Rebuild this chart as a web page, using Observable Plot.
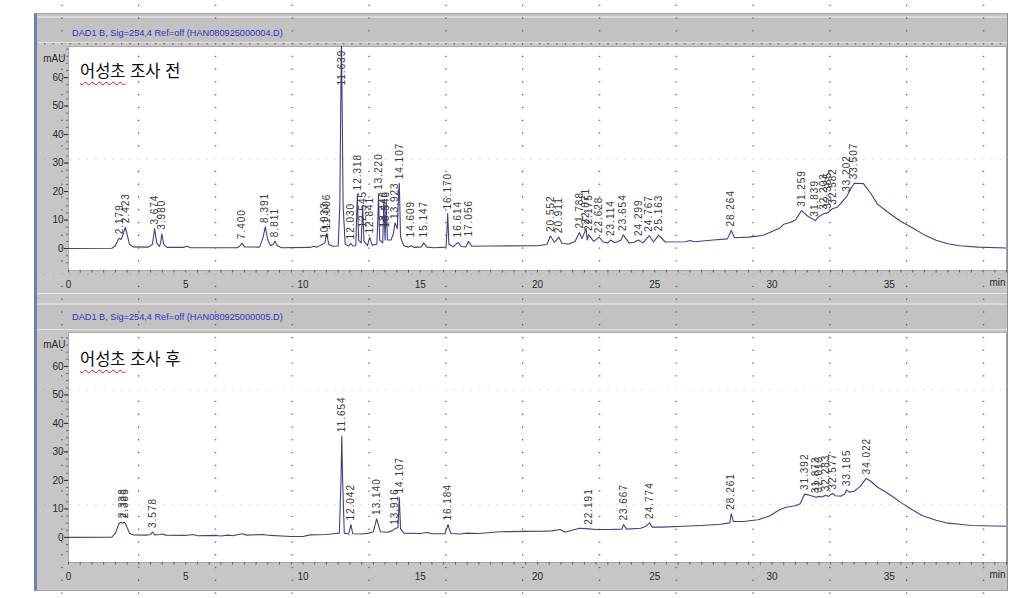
<!DOCTYPE html>
<html lang="ko"><head><meta charset="utf-8">
<script src="https://cdn.jsdelivr.net/npm/d3@7"></script>
<script src="https://cdn.jsdelivr.net/npm/@observablehq/plot@0.6"></script>
<style>
html,body{margin:0;padding:0;background:#fff;}
#page{position:relative;width:1016px;height:598px;overflow:hidden;background:#fff;font-family:"Liberation Sans",Arial,sans-serif;}
.abs{position:absolute;}
#frame{left:34px;top:13px;width:974px;height:578px;background:#c6c6c6;box-sizing:border-box;border-left:3px solid #7082aa;border-top:1px solid #a4a4a4;border-right:1px solid #8f8f8f;border-bottom:1px solid #a4a4a4;}
.hdr{left:37px;width:970px;height:27px;background:#c2c2c2;border-top:2px solid #d9d9d9;border-bottom:1px solid #e2e2e2;box-sizing:border-box;}
.hdr span{position:absolute;left:35px;font-size:9.2px;color:#3232c4;white-space:nowrap;}
.line{left:37px;width:970px;height:1px;background:#e6e6e6;}
.title{font-family:"Noto Sans CJK KR";font-size:16.5px;color:#0a0a0a;line-height:1;white-space:nowrap;}
.title .sp{text-decoration:underline wavy #d02020;text-decoration-thickness:1px;text-underline-offset:4px;}
.chart{left:37px;width:970px;}
</style></head>
<body>
<div id="page">
  <div id="frame" class="abs"></div>
  <div class="abs hdr" style="top:16px"><span style="top:10px">DAD1 B, Sig=254,4 Ref=off (HAN080925000004.D)</span></div>
  <div id="c1" class="abs chart" style="top:45px"></div>
  <div class="abs line" style="top:293px"></div>
  <div class="abs hdr" style="top:303px"><span style="top:7px">DAD1 B, Sig=254,4 Ref=off (HAN080925000005.D)</span></div>
  <div id="c2" class="abs chart" style="top:331px"></div>
  <div class="abs title" style="left:80px;top:62px"><span class="sp">어성초</span> 조사 전</div>
  <div class="abs title" style="left:80px;top:350px"><span class="sp">어성초</span> 조사 후</div>
</div>
<script>
// ---- axis ticks ----
const xTicks = [0, 5, 10, 15, 20, 25, 30, 35];
const yTicks = [0, 10, 20, 30, 40, 50, 60];
const xDomain = [0, 40];
const yDomainBefore = [-7.7, 70.9];
const yDomainAfter = [-8.8, 71.9];

// ---- "어성초 조사 전" trace: [min, mAU] ----
const traceBefore = [
  [0,0],[1.85,0.1],[2.0,1.0],[2.12,3.2],[2.179,3.6],[2.25,3.2],[2.35,5.5],[2.423,7.5],[2.5,5],[2.6,1.5],[2.75,0.6],
  [3.4,0.5],[3.58,1.5],[3.674,7.0],[3.76,2.0],[3.88,0.8],[3.93,2.0],[3.98,5.2],[4.06,1.5],[4.2,0.4],[4.9,0.4],[5.05,0.8],[5.2,0.3],
  [7.2,0.3],[7.32,1.0],[7.4,1.9],[7.5,0.6],[8.15,0.5],[8.3,4.0],[8.391,7.6],[8.5,3.0],[8.62,1.0],[8.73,1.5],[8.811,2.6],[8.9,1.0],[9.1,0.3],
  [10.3,0.4],[10.45,0.8],[10.6,0.5],[10.85,1.6],[10.933,2.0],[11.006,5.3],[11.1,1.5],[11.25,0.8],[11.5,0.9],
  [11.57,15],[11.61,50],[11.639,74.4],[11.67,50],[11.71,15],[11.8,1.5],[11.95,0.9],[12.03,1.8],[12.12,0.9],[12.25,1.0],
  [12.29,12],[12.318,19.0],[12.37,3],[12.48,2],[12.545,15.0],[12.6,2.5],[12.75,1.0],[12.841,3.9],[12.95,1.2],[13.15,1.5],
  [13.19,10],[13.22,19.2],[13.27,3],[13.4,2],[13.446,16.5],[13.5,3],[13.546,16],[13.6,3],[13.75,3],[13.85,5],[13.923,9.0],
  [14.02,7],[14.08,20],[14.107,22.9],[14.16,4],[14.3,1.0],[14.5,0.5],[14.609,1.0],[14.75,0.4],[15.05,0.6],[15.147,2.0],[15.28,0.5],
  [15.6,0.3],[16.1,0.5],[16.15,8],[16.17,12.3],[16.22,1.5],[16.4,0.6],[16.614,2.2],[16.75,0.7],[16.95,0.6],[17.056,2.5],[17.2,0.8],
  [18.0,0.9],[20.0,1.0],[20.4,1.4],[20.552,4.4],[20.72,2.2],[20.911,4.0],[21.05,1.8],[21.35,1.6],[21.6,2.5],[21.788,5.6],[21.9,3.5],
  [22.071,7.0],[22.12,3.0],[22.175,4.8],[22.4,2.5],[22.628,4.0],[22.8,2.3],[23.0,2.0],[23.114,3.0],[23.3,2.1],[23.55,2.8],[23.654,4.8],
  [23.9,2.0],[24.1,2.1],[24.299,3.0],[24.5,2.0],[24.767,4.5],[24.95,2.3],[25.163,4.7],[25.45,2.3],[26.3,2.4],[26.5,2.8],[26.7,2.4],
  [27.5,3.0],[28.1,3.4],[28.264,6.3],[28.4,3.8],[29.0,4.0],[29.6,4.6],[30.0,6.0],[30.3,7.0],[30.5,8.5],[30.8,9.2],[31.0,10.0],
  [31.259,13.3],[31.5,11.5],[31.839,9.8],[32.0,11.2],[32.203,12.2],[32.385,12.6],[32.582,14.0],[32.8,14.6],[33.0,16.5],[33.202,18.5],
  [33.4,21.5],[33.507,22.9],[33.9,22.8],[34.2,19.5],[34.5,15.6],[35.0,12.4],[35.5,9.5],[36.0,7.2],[36.5,4.8],[37.0,2.9],[37.5,1.7],
  [38.0,1.0],[38.8,0.5],[40.0,0.2]
];
// peak labels [retention time, label height mAU] (off-scale peak label sits inside the plot)
const peaksBefore = [
  ["2.179",3.6],["2.423",7.5],["3.674",7.0],["3.980",5.2],["7.400",1.9],["8.391",7.6],["8.811",2.6],["10.933",2.0],["11.006",5.3],
  ["11.639",55.8],["12.030",1.8],["12.318",19.0],["12.545",6.0],["12.841",3.9],["13.220",19.2],["13.446",6.0],["13.546",6.0],
  ["13.923",9.0],["14.107",22.9],["14.609",2.5],["15.147",2.5],["16.170",12.3],["16.614",2.5],["17.056",2.8],["20.552",4.4],
  ["20.911",4.0],["21.788",5.6],["22.071",7.0],["22.175",4.8],["22.628",4.0],["23.114",3.0],["23.654",4.8],["24.299",3.0],
  ["24.767",4.5],["25.163",4.7],["28.264",6.3],["31.259",13.3],["31.839",9.8],["32.203",12.2],["32.385",12.6],["32.582",14.0],
  ["33.202",18.5],["33.507",22.9]
];

// ---- "어성초 조사 후" trace ----
const traceAfter = [
  [0,0],[1.85,0.1],[2.0,1.5],[2.15,4.8],[2.22,5.3],[2.3,5.0],[2.385,5.3],[2.45,4.5],[2.6,1.5],[2.75,0.9],[3.3,0.8],[3.5,1.0],
  [3.578,1.9],[3.68,0.9],[3.9,1.0],[4.0,1.2],[4.15,0.8],[5.0,0.7],[5.3,1.0],[5.5,0.6],[6.3,0.7],[6.5,0.5],[6.8,0.8],[7.0,0.6],
  [7.4,1.3],[7.6,0.8],[8.3,1.0],[8.6,0.7],[9.5,0.3],[10.0,0.3],[10.3,0.9],[11.0,1.0],[11.3,1.3],[11.55,1.5],[11.62,20],
  [11.654,35.5],[11.69,20],[11.76,1.5],[11.95,1.2],[12.042,4.5],[12.12,1.3],[12.5,1.2],[12.8,1.5],[13.0,2.0],[13.14,6.5],
  [13.3,2.0],[13.6,1.8],[13.8,2.3],[13.916,3.0],[14.05,3.5],[14.107,14.0],[14.16,3],[14.3,1.5],[15.0,1.4],[15.3,1.7],[15.5,1.3],
  [16.05,1.3],[16.184,4.5],[16.3,1.4],[16.7,1.2],[17.0,1.5],[17.5,1.4],[18.4,2.0],[20.3,2.2],[20.6,2.3],[20.97,2.8],[21.18,1.8],
  [21.5,2.6],[21.8,3.2],[22.191,3.0],[22.5,2.8],[23.1,2.8],[23.6,2.9],[23.667,4.5],[23.8,2.9],[24.4,3.2],[24.6,3.8],[24.774,5.1],
  [24.9,3.6],[25.3,3.6],[26.2,3.9],[27.0,4.2],[27.8,4.6],[28.2,5.1],[28.261,8.3],[28.35,5.6],[28.8,5.6],[29.4,6.2],[29.9,7.5],
  [30.3,9.6],[30.6,10.6],[31.0,11.1],[31.2,11.8],[31.392,15.2],[31.6,14.8],[31.872,14.1],[32.013,14.4],[32.15,14.2],[32.283,14.8],
  [32.4,14.4],[32.577,15.4],[32.7,14.6],[32.95,14.5],[33.1,15.2],[33.185,16.6],[33.3,15.9],[33.5,16.2],[33.75,17.8],[34.022,20.7],
  [34.2,19.8],[34.5,17.6],[34.8,16.2],[35.2,14.0],[35.5,12.2],[36.0,9.6],[36.4,7.7],[37.0,6.0],[37.5,5.0],[38.0,4.6],[38.5,4.2],
  [39.0,4.1],[40.0,3.9]
];
const peaksAfter = [
  ["2.333",5.3],["2.385",5.3],["3.578",1.9],["11.654",35.5],["12.042",4.5],["13.140",6.5],["13.916",3.0],["14.107",14.0],
  ["16.184",4.5],["22.191",3.0],["23.667",4.5],["24.774",5.1],["28.261",8.3],["31.392",15.2],["31.872",14.1],["32.013",14.4],
  ["32.283",14.8],["32.577",15.4],["33.185",16.6],["34.022",20.7]
];

const minorX = d3.range(0, 40.01, 0.5);
const minorY = d3.range(-5, 71, 2.5);

function panel(sel, trace, peaks, yDomain, height, marginBottom) {
  const data = trace.map(([t, v]) => ({t, v}));
  const lab = peaks.map(([rt, h]) => ({rt, t: +rt, h}));
  const chart = Plot.plot({
    width: 970, height, marginTop: 1, marginRight: 1, marginBottom, marginLeft: 31,
    style: {background: "transparent", fontFamily: "'Liberation Sans', Arial, sans-serif", fontSize: "10px", color: "#2a2a2a", overflow: "visible"},
    x: {domain: xDomain, label: null},
    y: {domain: yDomain, label: null},
    marks: [
      Plot.frame({fill: "#ffffff", stroke: "#a8a8a8"}),
      Plot.axisX(minorX, {anchor: "bottom", tickSize: 2.5, tickFormat: () => "", label: null, stroke: "#555"}),
      Plot.axisX(xTicks, {anchor: "bottom", tickSize: 0, tickPadding: 10, label: null, fill: "#2a2a2a"}),
      Plot.axisY(minorY, {anchor: "left", tickSize: 2, tickFormat: () => "", label: null, stroke: "#666"}),
      Plot.axisY(yTicks, {anchor: "left", tickSize: 4, tickPadding: 1, label: null, fill: "#2a2a2a"}),
      Plot.line(data, {x: "t", y: "v", stroke: "#40408a", strokeWidth: 1.1, clip: true}),
      Plot.text(lab, {x: "t", y: "h", text: "rt", rotate: -90, textAnchor: "start", dy: -4, fontSize: 10, fill: "#3a3a3a"}),
      Plot.text(["mAU"], {frameAnchor: "top-left", dx: -3, dy: 8, textAnchor: "end", fill: "#2a2a2a"}),
      Plot.text(["min"], {frameAnchor: "bottom-right", dx: -1, dy: 15, textAnchor: "end", fill: "#2a2a2a"})
    ]
  });
  // widen character spacing of the rotated peak labels
  d3.select(chart).selectAll("text").filter(function () {
    const t = this.getAttribute("transform") || "";
    return t.includes("rotate");
  }).attr("letter-spacing", "1px").style("letter-spacing", "1px");
  document.querySelector(sel).append(chart);
}

panel("#c1", traceBefore, peaksBefore, yDomainBefore, 252, 27);
panel("#c2", traceAfter, peaksAfter, yDomainAfter, 259, 28);

// page layout grid (dotted) overlay from the pasted screenshot, limited to the frame width
const g = d3.select("#page").append("svg")
  .attr("width", 972).attr("height", 598)
  .style("position", "absolute").style("left", "35px").style("top", "0px").style("pointer-events", "none");
const pat = g.append("defs").append("pattern").attr("id", "pg")
  .attr("patternUnits", "userSpaceOnUse").attr("x", 26.2).attr("y", 43).attr("width", 76.8).attr("height", 115);
for (let i = 0; i < 9; i++) pat.append("rect").attr("x", 0).attr("y", i * 115 / 9).attr("width", 1.3).attr("height", 1.3).attr("fill", "#555");
for (let i = 1; i < 9; i++) pat.append("rect").attr("x", i * 76.8 / 9).attr("y", 0).attr("width", 1.3).attr("height", 1.3).attr("fill", "#555");
g.append("rect").attr("width", 972).attr("height", 598).attr("fill", "url(#pg)");
</script>
</body></html>
